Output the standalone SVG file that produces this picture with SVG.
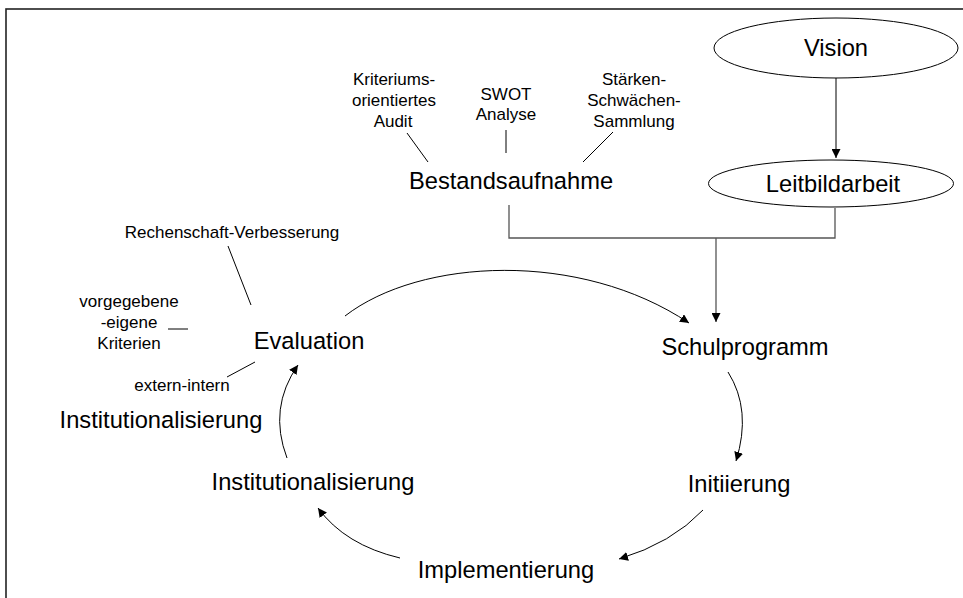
<svg xmlns="http://www.w3.org/2000/svg" width="963" height="598" viewBox="0 0 963 598">
<style>
text{font-family:"Liberation Sans",Arial,sans-serif;fill:#000}
.big{font-size:23.7px;text-anchor:middle}
.sm{font-size:17px;text-anchor:middle}
.ln{stroke:#000;stroke-width:1;fill:none}
.gr{stroke:#555;stroke-width:1.3;fill:none}
.ell{stroke:#000;stroke-width:1;fill:#fff}
</style>
<defs>
<marker id="ah" viewBox="0 0 10 10" refX="10" refY="5" markerWidth="9" markerHeight="9" markerUnits="userSpaceOnUse" orient="auto">
<path d="M0,0 L10,5 L0,10 z" fill="#000"/>
</marker>
</defs>
<rect x="6" y="9" width="990" height="620" fill="#fff" stroke="#222" stroke-width="1.6"/>
<g id="connectors">
<line class="ln" x1="836" y1="78" x2="836" y2="158" marker-end="url(#ah)"/>
<polyline class="gr" points="509,205 509,238 835,238 835,208"/>
<line class="gr" x1="716" y1="238" x2="716" y2="322" marker-end="url(#ah)"/>
<path class="ln" d="M345,316 C420,258 580,250 689,323" marker-end="url(#ah)"/>
<path class="ln" d="M728,372 Q752,410 736,461" marker-end="url(#ah)"/>
<path class="ln" d="M703,510 Q672,543 619,559" marker-end="url(#ah)"/>
<path class="ln" d="M400,558 Q345,545 318,508" marker-end="url(#ah)"/>
<path class="ln" d="M287,458 Q268,408 298,365" marker-end="url(#ah)"/>
<line class="ln" x1="407" y1="133" x2="428" y2="162"/>
<line class="ln" x1="506" y1="130" x2="506" y2="153"/>
<line class="ln" x1="613" y1="132" x2="583" y2="162"/>
<line class="ln" x1="228" y1="246" x2="251" y2="305"/>
<line class="ln" x1="168" y1="329" x2="188" y2="329"/>
<line class="ln" x1="227" y1="377" x2="255" y2="362"/>
</g>
<g id="vision">
<ellipse class="ell" cx="836" cy="48" rx="122" ry="30"/>
<text class="big" x="836" y="56">Vision</text>
</g>
<g id="leitbildarbeit">
<ellipse class="ell" cx="831" cy="183.5" rx="122.5" ry="23.5"/>
<text class="big" x="833" y="192">Leitbildarbeit</text>
</g>
<g id="bestandsaufnahme">
<text class="big" x="511" y="189">Bestandsaufnahme</text>
</g>
<g id="kriteriums">
<text class="sm" x="394" y="85">Kriteriums-</text>
<text class="sm" x="394" y="106">orientiertes</text>
<text class="sm" x="393" y="127">Audit</text>
</g>
<g id="swot">
<text class="sm" x="506" y="100">SWOT</text>
<text class="sm" x="506" y="120">Analyse</text>
</g>
<g id="staerken">
<text class="sm" x="634" y="85">Stärken-</text>
<text class="sm" x="634" y="106">Schwächen-</text>
<text class="sm" x="634" y="127">Sammlung</text>
</g>
<g id="rechenschaft">
<text class="sm" x="232" y="238">Rechenschaft-Verbesserung</text>
</g>
<g id="kriterien">
<text class="sm" x="129" y="307">vorgegebene</text>
<text class="sm" x="129" y="328">-eigene</text>
<text class="sm" x="129" y="349">Kriterien</text>
</g>
<g id="extern-intern">
<text class="sm" x="182" y="391">extern-intern</text>
</g>
<g id="evaluation">
<text class="big" x="309" y="349">Evaluation</text>
</g>
<g id="schulprogramm">
<text class="big" x="745" y="355">Schulprogramm</text>
</g>
<g id="initiierung">
<text class="big" x="739" y="492">Initiierung</text>
</g>
<g id="implementierung">
<text class="big" x="506" y="578">Implementierung</text>
</g>
<g id="institutionalisierung-2">
<text class="big" x="313" y="490">Institutionalisierung</text>
</g>
<g id="institutionalisierung-1">
<text class="big" x="161" y="428">Institutionalisierung</text>
</g>
</svg>
